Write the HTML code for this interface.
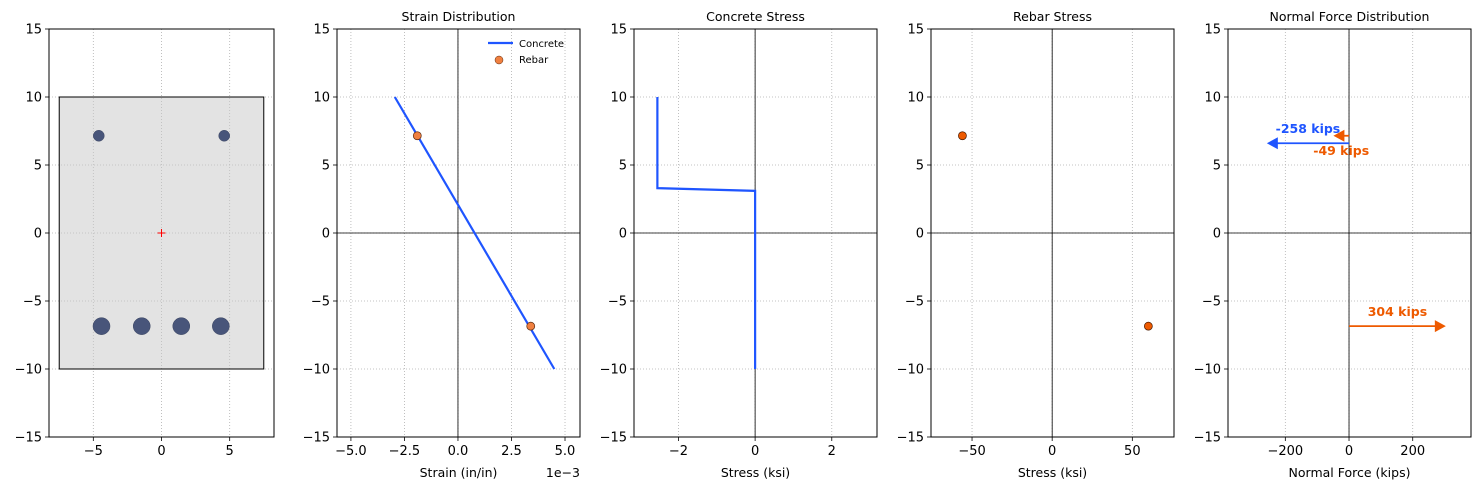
<!DOCTYPE html>
<html><head><meta charset="utf-8"><style>
body{margin:0;background:#fff;font-family:"Liberation Sans","DejaVu Sans",sans-serif}
svg text{font-family:"DejaVu Sans","Liberation Sans",sans-serif}
</style></head><body>
<svg id="c" width="1480" height="490" xmlns="http://www.w3.org/2000/svg"></svg>
<script>
// ---- data ----
const sectionWidth = 15, sectionHeight = 20;
const topBarsX = [-4.6, 4.6], topBarsY = [7.15, 7.15];
const botBarsX = [-4.4, -1.45, 1.45, 4.35], botBarsY = [-6.85, -6.85, -6.85, -6.85];
const strainLineX = [-2.95e-3, 4.5e-3], strainLineY = [10, -10];
const rebarStrainX = [-1.9e-3, 3.4e-3], rebarY = [7.15, -6.85];
const concStressX = [-2.55, -2.55, 0, 0], concStressY = [10, 3.3, 3.1, -10];
const rebarStressX = [-56, 60];
const forceLabels = ["-258 kips", "-49 kips", "304 kips"];
const forceValues = [-258, -49, 304], forceY = [6.6, 7.15, -6.85];
const yTicks = [-15, -10, -5, 0, 5, 10, 15];

const NS = "http://www.w3.org/2000/svg";
const svg = document.getElementById('c');
function el(tag, attrs, parent) {
  const e = document.createElementNS(NS, tag);
  for (const k in attrs) e.setAttribute(k, attrs[k]);
  (parent || svg).appendChild(e);
  return e;
}
const T = 29, B = 437;
function panel(name, x0, x1, xmin, xmax, xticks, xlabels, title, xlabel) {
  const g = el('g', {});
  
  
  const sx = v => x0 + (v - xmin) / (xmax - xmin) * (x1 - x0);
  const sy = v => B - (v + 15) / 30 * (B - T);
  xticks.forEach((t, i) => {
    el('line', {x1: sx(t), x2: sx(t), y1: T, y2: B, stroke: '#b0b0b0', 'stroke-width': 0.8, 'stroke-dasharray': '1,2'}, g);
    el('line', {x1: sx(t), x2: sx(t), y1: B, y2: B + 4, stroke: '#000', 'stroke-width': 0.8}, g);
    const tx = el('text', {x: sx(t), y: B + 18, 'font-size': 13, 'text-anchor': 'middle', fill: '#000'}, g);
    tx.textContent = xlabels[i];
  });
  yTicks.forEach(t => {
    el('line', {x1: x0, x2: x1, y1: sy(t), y2: sy(t), stroke: '#b0b0b0', 'stroke-width': 0.8, 'stroke-dasharray': '1,2'}, g);
    el('line', {x1: x0 - 4, x2: x0, y1: sy(t), y2: sy(t), stroke: '#000', 'stroke-width': 0.8}, g);
    const tx = el('text', {x: x0 - 7, y: sy(t) + 4.5, 'font-size': 13, 'text-anchor': 'end', fill: '#000'}, g);
    tx.textContent = String(t).replace('-', '\u2212');
  });
  if (title) { const t = el('text', {x: (x0 + x1) / 2, y: 21, 'font-size': 12.5, 'text-anchor': 'middle'}, g); t.textContent = title; }
  if (xlabel) { const t = el('text', {x: (x0 + x1) / 2, y: 477, 'font-size': 12.5, 'text-anchor': 'middle'}, g); t.textContent = xlabel; }
  return {g, sx, sy, frame: () => el('rect', {x: x0, y: T, width: x1 - x0, height: B - T, fill: 'none', stroke: '#000', 'stroke-width': 1}, g)};
}
// Panel 1
let p = panel('section-panel', 49, 274, -8.25, 8.25, [-5, 0, 5], ['\u22125', '0', '5'], '', '');
el('rect', {x: p.sx(-sectionWidth / 2), y: p.sy(sectionHeight / 2), width: p.sx(sectionWidth / 2) - p.sx(-sectionWidth / 2), height: p.sy(-sectionHeight / 2) - p.sy(sectionHeight / 2), fill: 'rgba(200,200,200,0.5)', stroke: '#000', 'stroke-width': 1}, p.g);
topBarsX.forEach((x, i) => { const c = el('circle', {cx: p.sx(x), cy: p.sy(topBarsY[i]), r: 5.5, fill: '#48557a', stroke: '#3a4460', 'stroke-width': 0.5}, p.g);  });
botBarsX.forEach((x, i) => { const c = el('circle', {cx: p.sx(x), cy: p.sy(botBarsY[i]), r: 8.5, fill: '#48557a', stroke: '#3a4460', 'stroke-width': 0.5}, p.g);  });
el('path', {d: `M${p.sx(0) - 4},${p.sy(0)}h8M${p.sx(0)},${p.sy(0) - 4}v8`, stroke: 'red', 'stroke-width': 1}, p.g);
p.frame();

function axis0(p, x0, x1) {
  el('line', {x1: x0, x2: x1, y1: p.sy(0), y2: p.sy(0), stroke: '#000', 'stroke-width': 0.8}, p.g);
  el('line', {x1: p.sx(0), x2: p.sx(0), y1: T, y2: B, stroke: '#000', 'stroke-width': 0.8}, p.g);
}
// Panel 2
p = panel('strain-panel', 337, 580, -5.65e-3, 5.7e-3, [-5e-3, -2.5e-3, 0, 2.5e-3, 5e-3], ['\u22125.0', '\u22122.5', '0.0', '2.5', '5.0'], 'Strain Distribution', 'Strain (in/in)');
axis0(p, 337, 580);
let l = el('polyline', {points: strainLineX.map((x, i) => p.sx(x) + ',' + p.sy(strainLineY[i])).join(' '), fill: 'none', stroke: '#1f55ff', 'stroke-width': 2.2}, p.g);

rebarStrainX.forEach((x, i) => { const c = el('circle', {cx: p.sx(x), cy: p.sy(rebarY[i]), r: 4, fill: '#f08040', stroke: '#5a2a10', 'stroke-width': 0.7}, p.g);  });
el('text', {x: 580, y: 477, 'font-size': 12.5, 'text-anchor': 'end'}, p.g).textContent = '1e\u22123';
el('line', {x1: 488, x2: 513, y1: 43, y2: 43, stroke: '#1f55ff', 'stroke-width': 2.2}, p.g);
el('text', {x: 519, y: 47, 'font-size': 10}, p.g).textContent = 'Concrete';
el('circle', {cx: 499, cy: 60, r: 4, fill: '#f08040', stroke: '#5a2a10', 'stroke-width': 0.5}, p.g);
el('text', {x: 519, y: 63, 'font-size': 10}, p.g).textContent = 'Rebar';
p.frame();

// Panel 3
p = panel('concrete-stress-panel', 634, 877, -3.16, 3.18, [-2, 0, 2], ['\u22122', '0', '2'], 'Concrete Stress', 'Stress (ksi)');
axis0(p, 634, 877);
l = el('polyline', {points: concStressX.map((x, i) => p.sx(x) + ',' + p.sy(concStressY[i])).join(' '), fill: 'none', stroke: '#1f55ff', 'stroke-width': 2.2}, p.g);

p.frame();

// Panel 4
p = panel('rebar-stress-panel', 931, 1174, -75.6, 76, [-50, 0, 50], ['\u221250', '0', '50'], 'Rebar Stress', 'Stress (ksi)');
axis0(p, 931, 1174);
rebarStressX.forEach((x, i) => { const c = el('circle', {cx: p.sx(x), cy: p.sy(rebarY[i]), r: 4, fill: '#ee5a00', stroke: '#4a1a00', 'stroke-width': 0.7}, p.g);  });
p.frame();

// Panel 5
p = panel('force-panel', 1228, 1471, -380, 383, [-200, 0, 200], ['\u2212200', '0', '200'], 'Normal Force Distribution', 'Normal Force (kips)');
axis0(p, 1228, 1471);
const colors = ['#1f55ff', '#ee5a00', '#ee5a00'];
const lblDy = [-10, 19, -10];
forceValues.forEach((v, i) => {
  const x0 = p.sx(0), x1 = p.sx(v), y = p.sy(forceY[i]), d = Math.sign(v);
  const g = el('g', {}, p.g);
  
  
  el('line', {x1: x0, x2: x1 - d * 10, y1: y, y2: y, stroke: colors[i], 'stroke-width': 1.8}, g);
  el('polygon', {points: `${x1},${y} ${x1 - d * 11},${y - 6} ${x1 - d * 11},${y + 6}`, fill: colors[i]}, g);
  const t = el('text', {x: (x0 + x1) / 2, y: y + lblDy[i], 'font-size': 12.5, 'font-weight': 'bold', 'text-anchor': 'middle', fill: colors[i]}, g);
  t.textContent = forceLabels[i];
});
p.frame();
</script>
</body></html>
